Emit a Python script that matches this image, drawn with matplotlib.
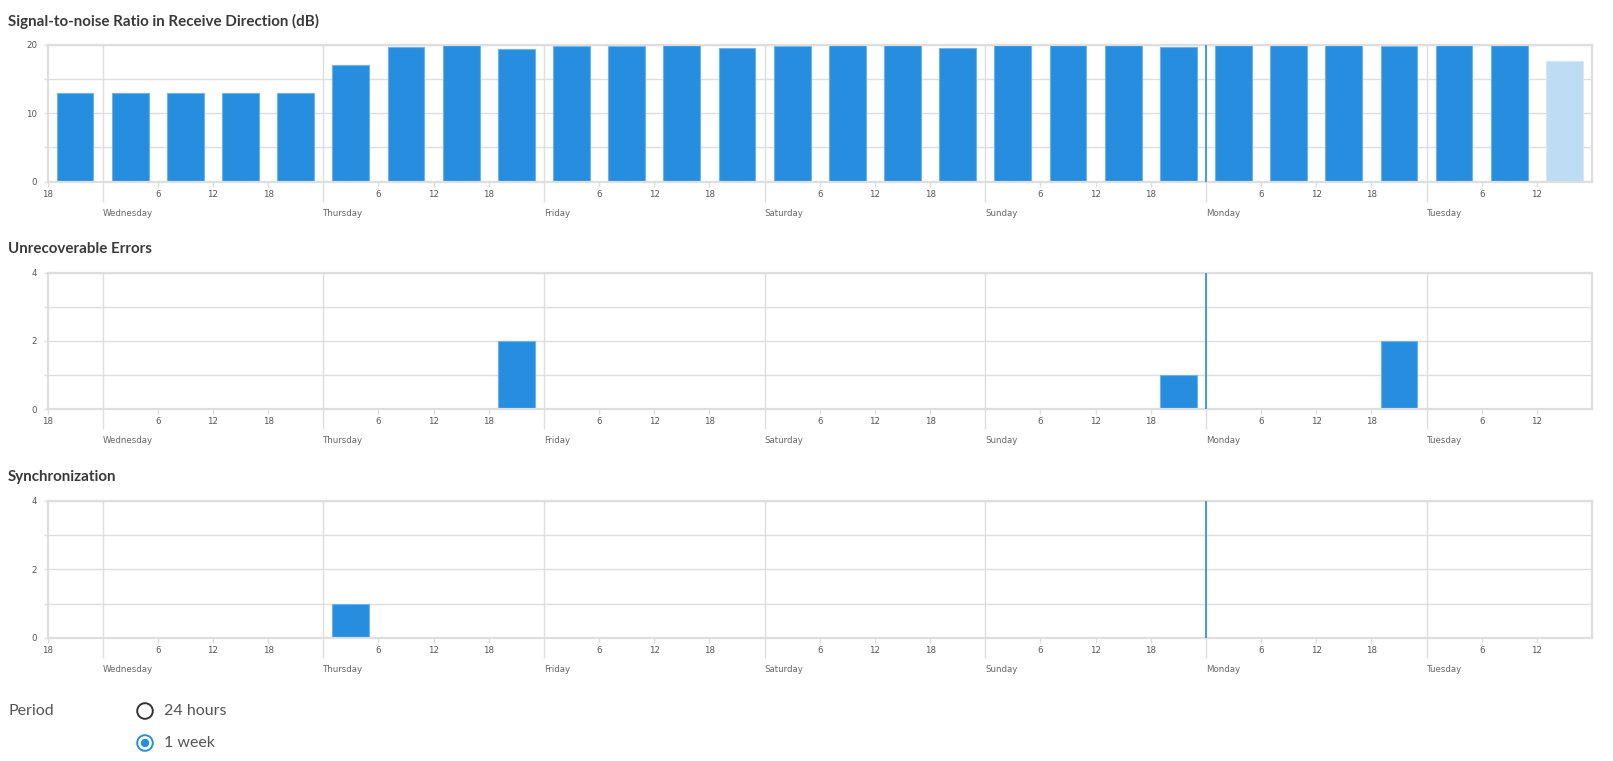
import numpy as np
import matplotlib
matplotlib.use('Agg')
import matplotlib.pyplot as plt
from matplotlib.patches import Circle
from matplotlib.transforms import IdentityTransform
from matplotlib.ticker import FixedLocator, MultipleLocator

# 6-hour buckets, starting Tuesday 18:00 (hour 0) and ending Tuesday 18:00 one week later
bucket_start = np.arange(0, 168, 6)
day_names = ['Wednesday', 'Thursday', 'Friday', 'Saturday', 'Sunday', 'Monday', 'Tuesday']
day_hours = [6, 30, 54, 78, 102, 126, 150]
hour_ticks = [0, 12, 18, 24, 36, 42, 48, 60, 66, 72, 84, 90, 96,
              108, 114, 120, 132, 138, 144, 156, 162]
hour_labels = ['18', '6', '12', '18', '6', '12', '18', '6', '12', '18', '6', '12', '18',
               '6', '12', '18', '6', '12', '18', '6', '12']

snr = [13, 13, 13, 13, 13,
       17, 19.7, 20, 19.4,
       19.85, 19.85, 20, 19.5,
       19.85, 20, 20, 19.5,
       20, 20, 20, 19.7,
       20, 20, 20, 19.85,
       20, 20, 17.6]
snr_partial = [False] * 27 + [True]

errors = [0, 0, 0, 0, 0,
          0, 0, 0, 2,
          0, 0, 0, 0,
          0, 0, 0, 0,
          0, 0, 0, 1,
          0, 0, 0, 2,
          0, 0, 0]
sync = [0, 0, 0, 0, 0,
        1, 0, 0, 0,
        0, 0, 0, 0,
        0, 0, 0, 0,
        0, 0, 0, 0,
        0, 0, 0, 0,
        0, 0, 0]

now_hour = 126  # Monday midnight marker

BLUE = '#268ddf'
EDGE = '#6db4ec'
LIGHT = '#bfdcf5'
GRID = '#dedede'
W, H = 1613, 761

fig = plt.figure(figsize=(W / 100, H / 100), dpi=100)
fig.patch.set_facecolor('white')


def px_axes(top, bottom, left=47.5, right=1592):
    return fig.add_axes([left / W, 1 - bottom / H, (right - left) / W, (bottom - top) / H])


def style_axes(ax, ymax, ystep_label, ystep_grid):
    ax.set_xlim(0, 168)
    ax.set_ylim(0, ymax)
    ax.set_axisbelow(True)
    for s in ax.spines.values():
        s.set_color(GRID)
        s.set_linewidth(1.6)
    # days: long tick with day name below
    ax.xaxis.set_major_locator(FixedLocator(day_hours))
    ax.set_xticklabels(day_names)
    for lab in ax.get_xticklabels():
        lab.set_horizontalalignment('left')
    ax.xaxis.set_minor_locator(FixedLocator(hour_ticks))
    ax.xaxis.set_minor_formatter(matplotlib.ticker.FixedFormatter(hour_labels))
    ax.tick_params(axis='x', which='major', length=14.5, width=1.0, color=GRID,
                   labelsize=6.2, labelcolor='#666666', pad=5)
    ax.tick_params(axis='x', which='minor', length=3.5, width=1.0, color=GRID,
                   labelsize=6.2, labelcolor='#555555', pad=2.4)
    ax.yaxis.set_major_locator(MultipleLocator(ystep_label))
    ax.yaxis.set_minor_locator(MultipleLocator(ystep_grid))
    ax.tick_params(axis='y', which='major', length=3, width=1.0, color=GRID,
                   labelsize=6.2, labelcolor='#555555', pad=4.5)
    ax.tick_params(axis='y', which='minor', length=3, width=1.0, color=GRID)
    ax.grid(True, axis='x', which='major', color=GRID, lw=1.0)
    ax.grid(True, axis='y', which='both', color=GRID, lw=1.0)
    ax.axvline(now_hour, color=BLUE, lw=1.2, zorder=3)


def draw_bars(ax, values, partial=None):
    for i, (x, v) in enumerate(zip(bucket_start, values)):
        if v <= 0:
            continue
        light = partial is not None and partial[i]
        ax.bar(x + 3, v, width=4, color=LIGHT if light else BLUE,
               edgecolor='#d3e8f9' if light else EDGE, linewidth=0.8, zorder=2)


titles = ['Signal-to-noise Ratio in Receive Direction (dB)', 'Unrecoverable Errors', 'Synchronization']
title_y = [21, 249, 477.5]
panels = [(44.5, 181.7), (272.7, 409.3), (501, 637.7)]

ax1 = px_axes(*panels[0])
style_axes(ax1, 20, 10, 5)
draw_bars(ax1, snr, snr_partial)

ax2 = px_axes(*panels[1])
style_axes(ax2, 4, 2, 1)
draw_bars(ax2, errors)

ax3 = px_axes(*panels[2])
style_axes(ax3, 4, 2, 1)
draw_bars(ax3, sync)

for t, y in zip(titles, title_y):
    fig.text(8 / W, 1 - y / H, t, fontsize=10.9, fontweight='bold', family='Lato',
             color='#3a3a3a', va='center', ha='left')

# period selector
fig.text(8 / W, 1 - 711 / H, 'Period', fontsize=11.5, family='Lato', color='#555555',
         va='center', ha='left')
fig.text(164 / W, 1 - 711 / H, '24 hours', fontsize=11.5, family='Lato', color='#555555',
         va='center', ha='left')
fig.text(164 / W, 1 - 743 / H, '1 week', fontsize=11.5, family='Lato', color='#555555',
         va='center', ha='left')
fig.add_artist(Circle((145, H - 711), 7.8, transform=IdentityTransform(),
                      facecolor='white', edgecolor='#333333', lw=1.4))
fig.add_artist(Circle((145, H - 743), 7.8, transform=IdentityTransform(),
                      facecolor='white', edgecolor=BLUE, lw=1.4))
fig.add_artist(Circle((145, H - 743), 4.2, transform=IdentityTransform(),
                      facecolor=BLUE, edgecolor='none'))

fig.savefig('out.png', dpi=100)
